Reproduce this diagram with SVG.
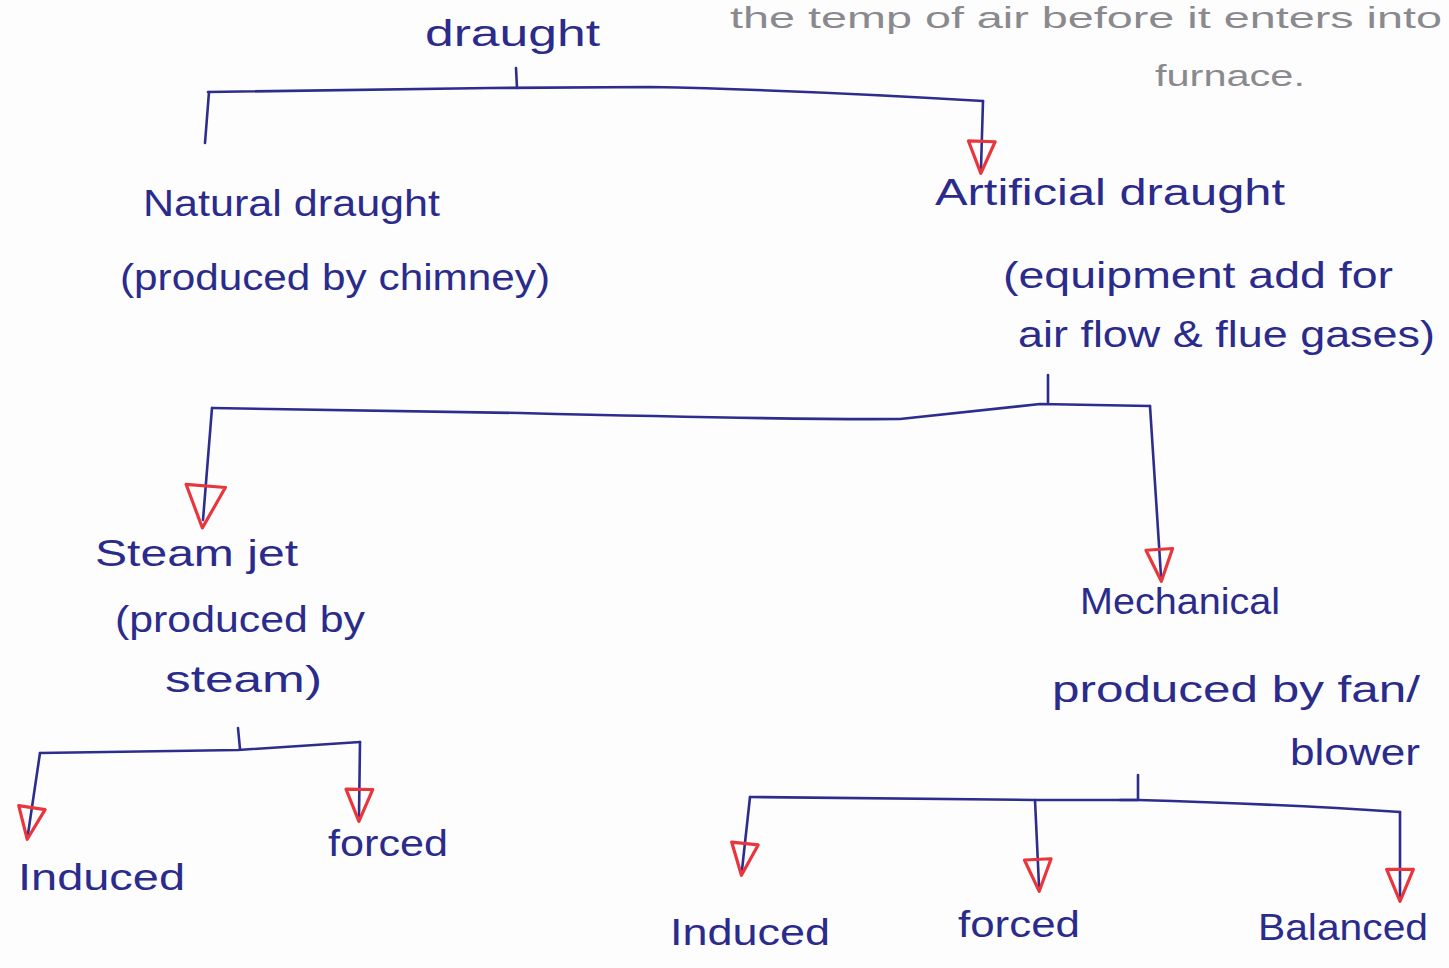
<svg xmlns="http://www.w3.org/2000/svg" width="1449" height="968" viewBox="0 0 1449 968">
<style>
  .bg{fill:#fdfdfe}
  .t{font-family:"Liberation Sans","DejaVu Sans",sans-serif;font-size:36px;fill:#2b2b8c}
  .note{font-family:"Liberation Sans","DejaVu Sans",sans-serif;font-size:30px;fill:#8a8a8e}
  .ln{fill:none;stroke:#2d2d8e;stroke-width:2.6;stroke-linecap:round;stroke-linejoin:round}
  .ah{fill:none;stroke:#e8363c;stroke-width:2.4;stroke-linejoin:round}
</style>
<defs>
  <marker id="arr" markerUnits="userSpaceOnUse" orient="auto" markerWidth="40" markerHeight="40" refX="20" refY="0" viewBox="-2 -13 30 26" overflow="visible">
    <path class="ah" d="M0,-10 L0,10 L24,0 Z"/>
  </marker>
  <marker id="arrBig" markerUnits="userSpaceOnUse" orient="auto" markerWidth="50" markerHeight="50" refX="26" refY="0" viewBox="-2 -17 38 34" overflow="visible">
    <path class="ah" d="M0,-15 L0,15 L32,0 Z"/>
  </marker>
</defs>
<rect class="bg" x="0" y="0" width="1449" height="968"/>

<g id="note">
  <text class="note" x="730" y="28" textLength="712" lengthAdjust="spacingAndGlyphs">the temp of air before it enters into</text>
  <text class="note" x="1155" y="86" textLength="150" lengthAdjust="spacingAndGlyphs">furnace.</text>
</g>

<g id="connectors">
  <!-- draught -->
  <path class="ln" d="M516,68 L517,88"/>
  <path class="ln" d="M208,92 L490,88 L650,87 Q800,90 983,101"/>
  <path class="ln" d="M209,92 L205,143"/>
  <path class="ln" d="M983,101 L981,168" marker-end="url(#arr)"/>
  <!-- artificial -->
  <path class="ln" d="M1048,375 L1048,403"/>
  <path class="ln" d="M212,408 L520,413 Q800,420 900,419 L1040,404 L1150,406"/>
  <path class="ln" d="M212,408 L203,520" marker-end="url(#arrBig)"/>
  <path class="ln" d="M1150,406 L1161,576" marker-end="url(#arr)"/>
  <!-- steam jet -->
  <path class="ln" d="M238,728 L240,749"/>
  <path class="ln" d="M40,753 L238,750 L360,742"/>
  <path class="ln" d="M40,753 L28,834" marker-end="url(#arr)"/>
  <path class="ln" d="M360,742 L359,816" marker-end="url(#arr)"/>
  <!-- mechanical -->
  <path class="ln" d="M1138,775 L1138,800 L1120,800"/>
  <path class="ln" d="M750,797 L1035,800 L1138,800 Q1280,804 1400,812"/>
  <path class="ln" d="M750,797 L742,870" marker-end="url(#arr)"/>
  <path class="ln" d="M1035,800 L1039,886" marker-end="url(#arr)"/>
  <path class="ln" d="M1400,812 L1400,896" marker-end="url(#arr)"/>
</g>

<g id="n-draught"><text class="t" x="425" y="46" textLength="175" lengthAdjust="spacingAndGlyphs">draught</text></g>
<g id="n-natural">
  <text class="t" x="143" y="216" textLength="297" lengthAdjust="spacingAndGlyphs">Natural draught</text>
  <text class="t" x="120" y="290" textLength="430" lengthAdjust="spacingAndGlyphs">(produced by chimney)</text>
</g>
<g id="n-artificial">
  <text class="t" x="935" y="205" textLength="350" lengthAdjust="spacingAndGlyphs">Artificial draught</text>
  <text class="t" x="1003" y="288" textLength="390" lengthAdjust="spacingAndGlyphs">(equipment add for</text>
  <text class="t" x="1018" y="347" textLength="417" lengthAdjust="spacingAndGlyphs">air flow &amp; flue gases)</text>
</g>
<g id="n-steamjet">
  <text class="t" x="95" y="566" textLength="203" lengthAdjust="spacingAndGlyphs">Steam jet</text>
  <text class="t" x="115" y="632" textLength="250" lengthAdjust="spacingAndGlyphs">(produced by</text>
  <text class="t" x="165" y="692" textLength="157" lengthAdjust="spacingAndGlyphs">steam)</text>
</g>
<g id="n-mechanical">
  <text class="t" x="1080" y="614" textLength="200" lengthAdjust="spacingAndGlyphs">Mechanical</text>
  <text class="t" x="1052" y="702" textLength="368" lengthAdjust="spacingAndGlyphs">produced by fan/</text>
  <text class="t" x="1290" y="765" textLength="130" lengthAdjust="spacingAndGlyphs">blower</text>
</g>
<g id="n-induced1"><text class="t" x="18" y="890" textLength="167" lengthAdjust="spacingAndGlyphs">Induced</text></g>
<g id="n-forced1"><text class="t" x="328" y="856" textLength="120" lengthAdjust="spacingAndGlyphs">forced</text></g>
<g id="n-induced2"><text class="t" x="670" y="945" textLength="160" lengthAdjust="spacingAndGlyphs">Induced</text></g>
<g id="n-forced2"><text class="t" x="958" y="937" textLength="122" lengthAdjust="spacingAndGlyphs">forced</text></g>
<g id="n-balanced"><text class="t" x="1258" y="940" textLength="170" lengthAdjust="spacingAndGlyphs">Balanced</text></g>
</svg>
